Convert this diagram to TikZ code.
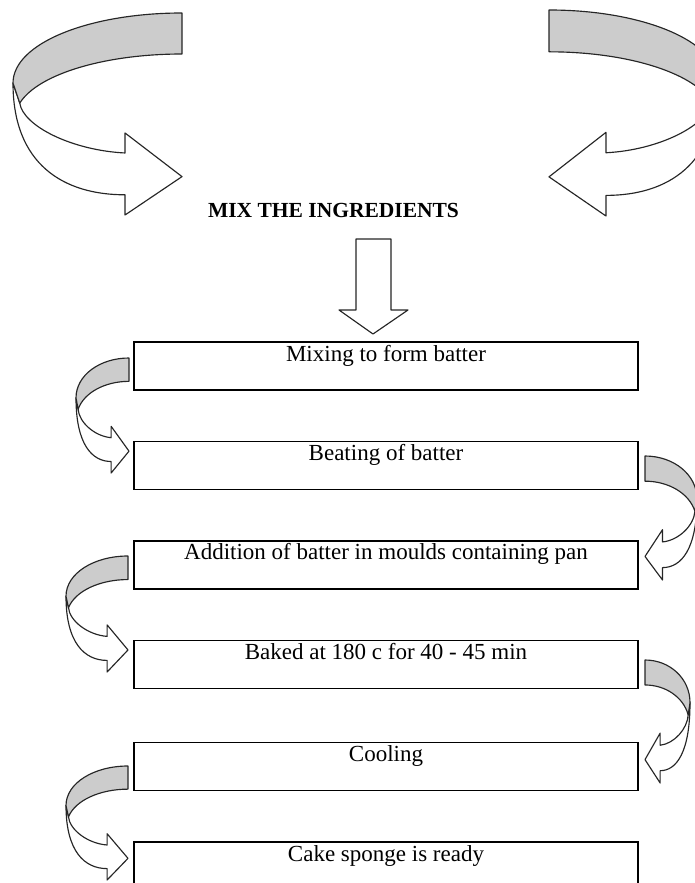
\documentclass[tikz,border=0pt]{standalone}
\usepackage{fontspec}
\setmainfont{Liberation Serif}
\usetikzlibrary{positioning}

\begin{document}
\begin{tikzpicture}[x=1pt,y=-1pt]
    % Define styles
    \tikzstyle{stepbox} = [rectangle, draw, line width=1.4pt, minimum width=504pt, inner xsep=0pt, inner ysep=0pt, text height=19pt, text depth=29pt, font={\fontsize{23}{27}\selectfont}]
    \tikzstyle{band} = [draw=black!85, line width=1.15pt, line join=round]
    \tikzset{curvarrow/.pic={
        % front part with the head
        \draw [band, fill=white] (0,0.347) .. controls (0,0.75) and (0.3,0.9) .. (0.663,0.90)
            -- (0.663,1) -- (1,0.81) -- (0.663,0.594) -- (0.663,0.693)
            .. controls (0.35,0.68) and (0.06,0.56) .. (0.04,0.446) -- cycle;
        % back part
        \draw [band, fill=black!20] (1,0) .. controls (0.45,0) and (0,0.15) .. (0,0.347)
            -- (0.04,0.446) .. controls (0.15,0.3) and (0.55,0.203) .. (1,0.203) -- cycle;
    }}

    \clip (0,0) rectangle (695,883);

    % Top
    \pic [xscale=169, yscale=202] at (13,13) {curvarrow};
    \pic [xscale=-169, yscale=206] at (718,10) {curvarrow};
    \node (mix) [anchor=base, font={\fontsize{21.5}{26}\selectfont\bfseries}] at (333.5,217) {MIX THE INGREDIENTS};
    \draw [band, fill=white] (356,239) -- (391,239) -- (391,310) -- (408,310) -- (373,334) -- (339,310) -- (356,310) -- cycle;

    % Steps
    \node (mixing) [stepbox] at (386,366) {Mixing to form batter};
    \node (beating) [stepbox, below=50pt of mixing] {Beating of batter};
    \node (moulds) [stepbox, below=50pt of beating] {Addition of batter in moulds containing pan};
    \node (baked) [stepbox, below=50pt of moulds] {Baked at 180 c for 40 - 45 min};
    \node (cooling) [stepbox, below=53pt of baked] {Cooling};
    \node (ready) [stepbox, below=50pt of cooling] {Cake sponge is ready};

    % Turns between the steps
    \pic [xscale=53, yscale=115] at (76,358) {curvarrow};
    \pic [xscale=-52, yscale=124] at (697,456) {curvarrow};
    \pic [xscale=62, yscale=116] at (66,556) {curvarrow};
    \pic [xscale=-45, yscale=123] at (690,660) {curvarrow};
    \pic [xscale=62, yscale=114] at (66,766) {curvarrow};
\end{tikzpicture}
\end{document}
